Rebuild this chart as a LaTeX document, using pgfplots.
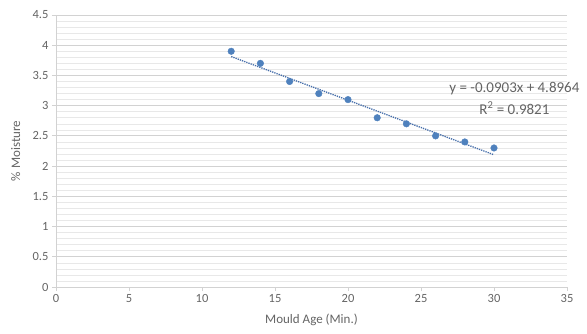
\documentclass[border=0pt]{standalone}
\usepackage{pgfplots}
\pgfplotsset{compat=1.18}
\usepackage{fontspec}
\setmainfont{Carlito}
\definecolor{ptblue}{RGB}{79,129,189}
\definecolor{trblue}{RGB}{70,110,170}
\definecolor{txtgrey}{RGB}{100,100,100}
\definecolor{majgrid}{RGB}{210,210,210}
\definecolor{mingrid}{RGB}{232,232,232}
\begin{document}
\begin{tikzpicture}
\begin{axis}[
  at={(0,0)}, anchor=origin,
  scale only axis, width=511pt, height=272pt,
  xmin=0, xmax=35, ymin=0, ymax=4.5,
  xtick={0,5,...,35}, ytick={0,0.5,...,4.5},
  minor y tick num=4,
  ymajorgrids, yminorgrids,
  major grid style={majgrid, line width=0.8pt},
  minor grid style={mingrid, line width=0.6pt},
  axis x line*=bottom, axis y line*=left,
  axis line style={majgrid, line width=0.8pt, -},
  x axis line style={-}, y axis line style={-},
  tick style={majgrid, line width=0.8pt},
  major tick length=4pt,
  xtick pos=bottom, ytick pos=left,
  tick align=outside,
  minor tick length=0pt,
  ticklabel style={font=\fontsize{12.5}{14}\selectfont, text=txtgrey},
  /pgf/number format/assume math mode=true,
  yticklabel style={/pgf/number format/fixed},
  xlabel={Mould Age (Min.)}, ylabel={\% Moisture},
  label style={font=\fontsize{13}{15}\selectfont, text=txtgrey},
  xlabel style={at={(axis description cs:0.5,0)}, anchor=north, yshift=-23pt},
  ylabel style={at={(axis description cs:-0.063,0.5)}, anchor=south},
  clip=false,
]
\addplot[trblue, line width=1.3pt, densely dotted] coordinates {(12,3.8128) (30,2.1874)};
\addplot[only marks, mark=*, mark size=3.3pt, mark options={fill=ptblue, draw=ptblue}] coordinates {
(12,3.9) (14,3.7) (16,3.4) (18,3.2) (20,3.1) (22,2.8) (24,2.7) (26,2.5) (28,2.4) (30,2.3)};
\node[font=\fontsize{15}{17}\selectfont, text=txtgrey] at (axis cs:31.4,3.29) {y = -0.0903x + 4.8964};
\node[font=\fontsize{15}{17}\selectfont, text=txtgrey] at (axis cs:31.4,2.96) {R\textsuperscript{2} = 0.9821};
\end{axis}
\path (-56pt,-46pt) rectangle (531pt,287pt);
\end{tikzpicture}
\end{document}
